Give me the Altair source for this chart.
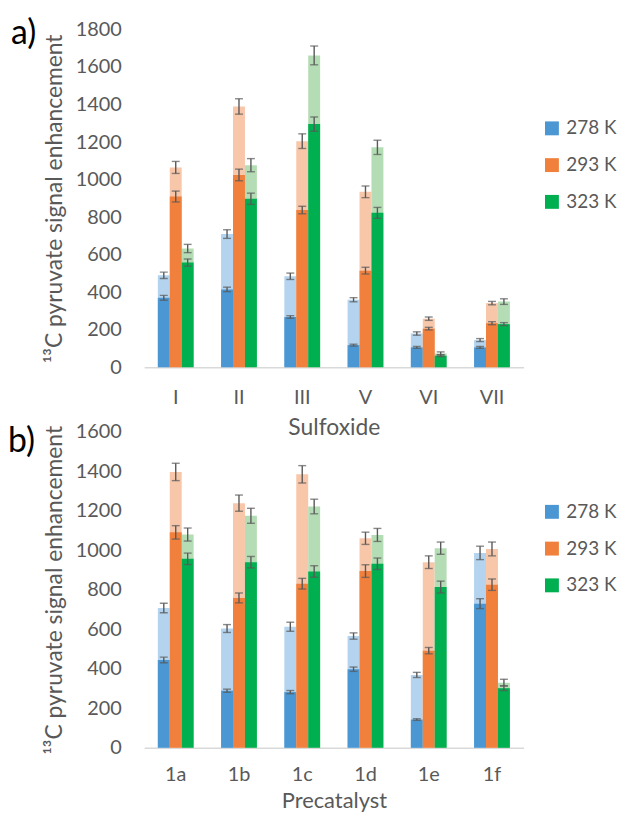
import altair as alt
import pandas as pd

temps = ["278 K", "293 K", "323 K"]
dark_colors = ["#4A97D3", "#F0803C", "#00B050"]
light_colors = ["#B3D3EE", "#F8C7AA", "#B5DDB5"]

# Panel a) Sulfoxide
sulfoxides = ["I", "II", "III", "V", "VI", "VII"]
a_light_278 = [490, 710, 485, 360, 180, 145]
a_dark_278 = [370, 415, 268, 118, 106, 106]
a_light_293 = [1065, 1390, 1205, 935, 259, 342]
a_dark_293 = [910, 1025, 838, 515, 206, 235]
a_light_323 = [633, 1077, 1662, 1172, 74, 350]
a_dark_323 = [558, 898, 1296, 823, 62, 230]
a_light_278_err = [17, 23, 17, 11, 9, 8]
a_dark_278_err = [13, 12, 7, 5, 5, 5]
a_light_293_err = [32, 41, 39, 31, 9, 9]
a_dark_293_err = [29, 31, 20, 18, 7, 8]
a_light_323_err = [22, 35, 50, 38, 8, 15]
a_dark_323_err = [19, 30, 38, 29, 5, 8]

# Panel b) Precatalyst
precats = ["1a", "1b", "1c", "1d", "1e", "1f"]
b_light_278 = [708, 604, 613, 566, 369, 987]
b_dark_278 = [445, 289, 282, 398, 143, 730]
b_light_293 = [1397, 1239, 1385, 1061, 940, 1007]
b_dark_293 = [1091, 759, 831, 895, 492, 826]
b_light_323 = [1080, 1175, 1222, 1078, 1011, 330]
b_dark_323 = [957, 940, 893, 932, 814, 302]
b_light_278_err = [24, 20, 23, 16, 13, 34]
b_dark_278_err = [14, 8, 8, 11, 4, 25]
b_light_293_err = [44, 41, 44, 31, 32, 35]
b_dark_293_err = [34, 25, 27, 32, 16, 29]
b_light_323_err = [33, 38, 37, 33, 31, 17]
b_dark_323_err = [29, 29, 29, 29, 30, 12]

YTITLE = "\u00b9\u00b3C pyruvate signal enhancement"
FONT = "Lato"
GREY = "#595959"


def make_df(cats, lights, darks, lerrs, derrs):
    rows = []
    for ti, t in enumerate(temps):
        for ci, c in enumerate(cats):
            rows.append(dict(cat=c, temp=t,
                             light=lights[ti][ci], dark=darks[ti][ci],
                             lerr=lerrs[ti][ci], derr=derrs[ti][ci]))
    df = pd.DataFrame(rows)
    df["l_lo"] = df["light"] - df["lerr"]
    df["l_hi"] = df["light"] + df["lerr"]
    df["d_lo"] = df["dark"] - df["derr"]
    df["d_hi"] = df["dark"] + df["derr"]
    return df


def panel(df, cats, ymax, height, xtitle, letter, lx, ly, legy, lpad, tpad, xtfs):
    yscale = alt.Scale(domain=[0, ymax], nice=False)
    yaxis = alt.Axis(title=YTITLE, values=list(range(0, ymax + 1, 200)),
                     tickCount=ymax // 200 + 1,
                     format="d", labelOverlap=False,
                     ticks=False, tickSize=0, domain=False, grid=False,
                     labelPadding=23, titlePadding=9)
    base = alt.Chart(df).encode(
        x=alt.X("cat:N", sort=cats,
                scale=alt.Scale(paddingInner=0.434, paddingOuter=0.217),
                axis=alt.Axis(title=xtitle, labelAngle=0, ticks=False, tickSize=0,
                              labelPadding=lpad, titlePadding=tpad, domain=True,
                              titleFontSize=xtfs,
                              domainColor="#D9D9D9", domainWidth=1.5)),
        xOffset=alt.XOffset("temp:N", sort=temps,
                            scale=alt.Scale(paddingInner=0, paddingOuter=0)),
    )
    light = base.mark_bar().encode(
        y=alt.Y("light:Q", scale=yscale, axis=yaxis),
        color=alt.Color("temp:N", sort=temps,
                        scale=alt.Scale(domain=temps, range=light_colors),
                        legend=None),
    )
    dark = base.mark_bar().encode(
        y=alt.Y("dark:Q", scale=yscale, axis=yaxis),
        fill=alt.Fill("temp:N", sort=temps,
                      scale=alt.Scale(domain=temps, range=dark_colors),
                      legend=alt.Legend(title=None, orient="none", legendX=401,
                                        legendY=legy, symbolType="square",
                                        symbolSize=196, symbolStrokeWidth=0,
                                        labelFont=FONT, labelFontSize=19,
                                        labelColor=GREY, rowPadding=17,
                                        labelOffset=5, padding=0)),
    )
    layers = [light, dark]
    for lo, hi in (("l_lo", "l_hi"), ("d_lo", "d_hi")):
        layers.append(base.mark_rule(color=GREY, strokeWidth=1.4).encode(
            y=alt.Y(f"{lo}:Q", scale=yscale, axis=yaxis), y2=f"{hi}:Q"))
        layers.append(base.mark_tick(color=GREY, size=8, thickness=1.4).encode(
            y=alt.Y(f"{lo}:Q", scale=yscale, axis=yaxis)))
        layers.append(base.mark_tick(color=GREY, size=8, thickness=1.4).encode(
            y=alt.Y(f"{hi}:Q", scale=yscale, axis=yaxis)))
    txt = alt.Chart(pd.DataFrame({"t": [letter]})).mark_text(
        font=FONT, fontSize=34, color="black", align="left", baseline="alphabetic"
    ).encode(text="t:N", x=alt.value(lx), y=alt.value(ly))
    layers.append(txt)
    return alt.layer(*layers).resolve_scale(color="independent").properties(
        width=382, height=height)


dfa = make_df(sulfoxides,
              [a_light_278, a_light_293, a_light_323],
              [a_dark_278, a_dark_293, a_dark_323],
              [a_light_278_err, a_light_293_err, a_light_323_err],
              [a_dark_278_err, a_dark_293_err, a_dark_323_err])
dfb = make_df(precats,
              [b_light_278, b_light_293, b_light_323],
              [b_dark_278, b_dark_293, b_dark_323],
              [b_light_278_err, b_light_293_err, b_light_323_err],
              [b_dark_278_err, b_dark_293_err, b_dark_323_err])

pa = panel(dfa, sulfoxides, 1800, 340, "Sulfoxide", "a)", -134, 15, 90, 20, 10, 23)
pb = panel(dfb, precats, 1600, 318, "Precatalyst", "b)", -137, 20, 71, 17, 6, 22)

chart = alt.vconcat(pa, pb, spacing=65, bounds="flush").resolve_scale(
    color="independent", fill="independent"
).properties(
    padding={"left": 0, "top": 7, "right": 0, "bottom": 0}
).configure_view(strokeWidth=0).configure_axis(
    labelFont=FONT, labelFontSize=20, labelColor=GREY,
    titleFont=FONT, titleFontSize=23, titleColor=GREY, titleFontWeight="normal",
    grid=False
)

chart.save("out.html", embed_options={"renderer": "svg", "actions": False})
